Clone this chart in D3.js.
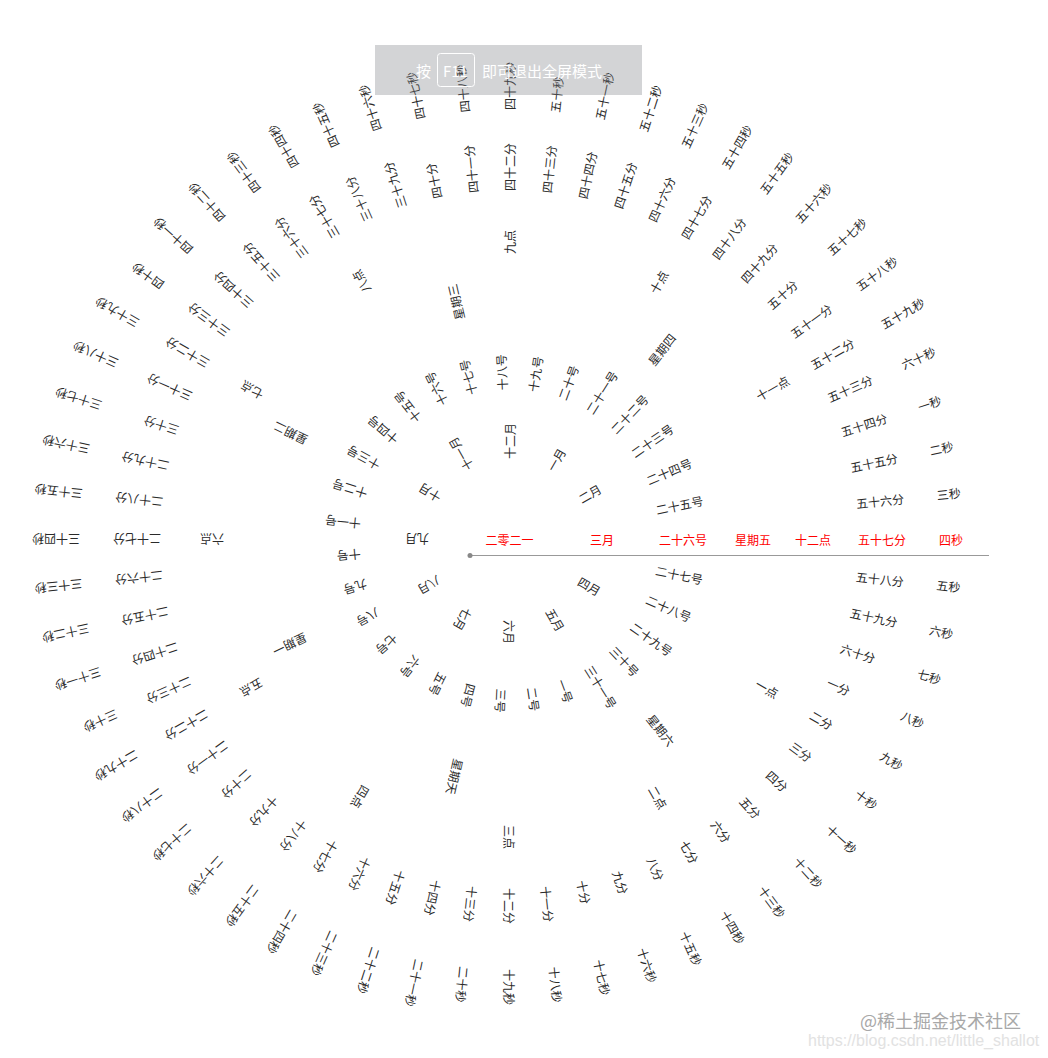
<!DOCTYPE html>
<html>
<head>
<meta charset="utf-8">
<script src="https://cdnjs.cloudflare.com/ajax/libs/d3/7.8.5/d3.min.js"></script>
<style>
  html, body { margin: 0; background: #fff; overflow: hidden; }
  text { font-family: "Noto Sans CJK SC", "DejaVu Sans", sans-serif; }
</style>
</head>
<body>
<script>
const width = 1048
const height = 1058

const years = ['二零二一']
const months = ['一月','二月','三月','四月','五月','六月','七月','八月','九月','十月','十一月','十二月']
const days = ['一号','二号','三号','四号','五号','六号','七号','八号','九号','十号',
  '十一号','十二号','十三号','十四号','十五号','十六号','十七号','十八号','十九号','二十号',
  '二十一号','二十二号','二十三号','二十四号','二十五号','二十六号','二十七号','二十八号','二十九号','三十号','三十一号']
const weeks = ['星期一','星期二','星期三','星期四','星期五','星期六','星期天']
const hours = ['一点','二点','三点','四点','五点','六点','七点','八点','九点','十点','十一点','十二点']
const minutes = ['一分','二分','三分','四分','五分','六分','七分','八分','九分','十分',
  '十一分','十二分','十三分','十四分','十五分','十六分','十七分','十八分','十九分','二十分',
  '二十一分','二十二分','二十三分','二十四分','二十五分','二十六分','二十七分','二十八分','二十九分','三十分',
  '三十一分','三十二分','三十三分','三十四分','三十五分','三十六分','三十七分','三十八分','三十九分','四十分',
  '四十一分','四十二分','四十三分','四十四分','四十五分','四十六分','四十七分','四十八分','四十九分','五十分',
  '五十一分','五十二分','五十三分','五十四分','五十五分','五十六分','五十七分','五十八分','五十九分','六十分']
const seconds = ['一秒','二秒','三秒','四秒','五秒','六秒','七秒','八秒','九秒','十秒',
  '十一秒','十二秒','十三秒','十四秒','十五秒','十六秒','十七秒','十八秒','十九秒','二十秒',
  '二十一秒','二十二秒','二十三秒','二十四秒','二十五秒','二十六秒','二十七秒','二十八秒','二十九秒','三十秒',
  '三十一秒','三十二秒','三十三秒','三十四秒','三十五秒','三十六秒','三十七秒','三十八秒','三十九秒','四十秒',
  '四十一秒','四十二秒','四十三秒','四十四秒','四十五秒','四十六秒','四十七秒','四十八秒','四十九秒','五十秒',
  '五十一秒','五十二秒','五十三秒','五十四秒','五十五秒','五十六秒','五十七秒','五十八秒','五十九秒','六十秒']

// The time the clock is showing, these labels sit on the zero angle and are red
const current = ['三月','二十六号','星期五','十二点','五十七分','四秒']

const cx = 509.5
const cy = 539.5

const rings = [
  {labels: months, radius: 80.5},
  {labels: days, radius: 149.5},
  {labels: weeks, radius: 225.5},
  {labels: hours, radius: 285.5},
  {labels: minutes, radius: 348.5},
  {labels: seconds, radius: 429.5},
]

const svg = d3.select('body').append('svg')
  .attr('width', width)
  .attr('height', height)
  .style('display', 'block')

const clock = svg.append('g').classed('clock', true)
  .attr('transform', `translate(${cx} ${cy})`)

// Year stays in the middle and does not turn
clock.append('text')
  .data(years)
  .attr('text-anchor', 'middle')
  .attr('dominant-baseline', 'central')
  .attr('font-size', 12)
  .attr('fill', '#f00')
  .text(d => d)

// Draw one ring of labels, the current one turned to zero degrees
rings.forEach(ring => {
  const now = ring.labels.findIndex(d => current.includes(d))
  const angle = d3.scaleLinear()
    .domain([0, ring.labels.length])
    .range([0, 360])

  clock.append('g').classed('ring', true)
    .selectAll('text')
    .data(ring.labels)
    .enter().append('text')
    .attr('transform', (d, i) => `rotate(${angle(i - now)}) translate(${ring.radius} 0)`)
    .attr('dominant-baseline', 'central')
    .attr('font-size', 12)
    .attr('fill', d => current.includes(d) ? '#f00' : '#2a2a2a')
    .text(d => d)
})

// Pointer line under the red labels
svg.append('line')
  .attr('x1', 470).attr('y1', 555.5)
  .attr('x2', 989).attr('y2', 555.5)
  .attr('stroke', '#999')
  .attr('stroke-width', 1)
svg.append('circle')
  .attr('cx', 470).attr('cy', 555.5)
  .attr('r', 2.5)
  .attr('fill', '#888')

// Browser full screen hint on top of the clock
const hint = svg.append('g').classed('hint', true)
hint.append('rect')
  .attr('x', 375).attr('y', 45)
  .attr('width', 267).attr('height', 50)
  .attr('fill', 'rgb(125,128,135)')
  .attr('fill-opacity', 0.34)
hint.append('rect')
  .attr('x', 437.5).attr('y', 53.5)
  .attr('width', 37).attr('height', 33)
  .attr('rx', 3)
  .attr('fill', 'none')
  .attr('stroke', '#fff')
const hintText = [
  {text: '按', x: 416},
  {text: 'F11', x: 443},
  {text: '即可退出全屏模式', x: 482},
]
hint.selectAll('text.hintText')
  .data(hintText)
  .enter().append('text').classed('hintText', true)
  .attr('x', d => d.x)
  .attr('y', 70)
  .attr('dominant-baseline', 'central')
  .attr('font-size', 15)
  .attr('fill', '#fff')
  .text(d => d.text)

// Watermarks in the corner
svg.append('text')
  .attr('x', 860).attr('y', 1020)
  .attr('dominant-baseline', 'central')
  .attr('font-size', 18)
  .attr('fill', '#a8a8a8')
  .text('@稀土掘金技术社区')
svg.append('text')
  .attr('x', 808).attr('y', 1040)
  .attr('dominant-baseline', 'central')
  .attr('font-size', 16)
  .attr('fill', '#e2e2e2')
  .style('font-family', '"Liberation Sans", sans-serif')
  .text('https://blog.csdn.net/little_shallot')
</script>
</body>
</html>
